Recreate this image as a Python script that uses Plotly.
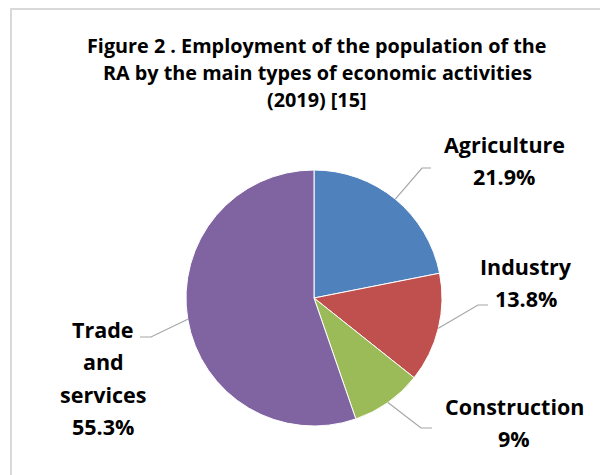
import math
import plotly.graph_objects as go

# ---- data ----
categories = ["Agriculture", "Industry", "Construction", "Trade and services"]
values = [21.9, 13.8, 9, 55.3]
label_lines = [["Agriculture"], ["Industry"], ["Construction"], ["Trade", "and", "services"]]
value_texts = ["21.9%", "13.8%", "9%", "55.3%"]
colors = ["#4F81BD", "#C0504D", "#9BBB59", "#8064A2"]
title_lines = ["Figure 2 . Employment of the population of the",
               "RA by the main types of economic activities",
               "(2019) [15]"]

# page body has an 8px margin: figure is drawn at (8, 8) in the window
OFF = 8
W, H = 608 - OFF, 475 - OFF
CX, CY, R = 314, 298, 128
FONT = "Open Sans"

def px(x):
    return (x - OFF) / W

def py(y):
    return 1 - (y - OFF) / H

fig = go.Figure()
fig.add_trace(go.Pie(
    labels=categories, values=values, sort=False, direction="clockwise",
    rotation=0, textinfo="none", hoverinfo="label+percent",
    marker=dict(colors=colors, line=dict(color="white", width=1)),
    domain=dict(x=[px(CX - R), px(CX + R)], y=[py(CY + R), py(CY - R)]),
    showlegend=False,
))

annotations = []
for i, t in enumerate(title_lines):
    annotations.append(dict(text=f"<b>{t}</b>", x=px(317), y=py(45 + 27.5 * i),
                            xref="paper", yref="paper", showarrow=False,
                            xanchor="center", yanchor="middle",
                            font=dict(family=FONT, size=19.8, color="#000000")))

# label layout (text centre of first line, elbow & end of leader line)
label_pos = [(504, 144), (526, 266), (514, 406), (103, 329)]
elbows = [((422, 168), (431, 168)), ((478, 305), (488, 305)),
          ((421, 428), (432, 428)), ((151, 337), (140, 337))]
line_gap = 32.5

shapes = []
total = sum(values)
cum = 0
for i, v in enumerate(values):
    mid = (cum + v / 2) / total * 2 * math.pi
    cum += v
    ax = CX + R * math.sin(mid)
    ay = CY - R * math.cos(mid)
    (ex, ey), (fx, fy) = elbows[i]
    path = f"M {px(ax)} {py(ay)} L {px(ex)} {py(ey)} L {px(fx)} {py(fy)}"
    shapes.append(dict(type="path", path=path, xref="paper", yref="paper",
                       line=dict(color="#A6A6A6", width=1.2)))
    lines = label_lines[i] + [value_texts[i]]
    lx, ly = label_pos[i]
    for j, s in enumerate(lines):
        annotations.append(dict(text=f"<b>{s}</b>", x=px(lx), y=py(ly + line_gap * j),
                                xref="paper", yref="paper", showarrow=False,
                                xanchor="center", yanchor="middle",
                                font=dict(family=FONT, size=21.5, color="#000000")))

# chart frame
shapes.append(dict(type="rect", xref="paper", yref="paper",
                   x0=px(11), y0=py(490), x1=px(620), y1=py(9),
                   line=dict(color="#D9D9D9", width=2), fillcolor="rgba(0,0,0,0)",
                   layer="below"))

fig.update_layout(width=W, height=H, margin=dict(l=0, r=0, t=0, b=0),
                  paper_bgcolor="white", plot_bgcolor="white",
                  annotations=annotations, shapes=shapes)

fig.write_html("out.html")
